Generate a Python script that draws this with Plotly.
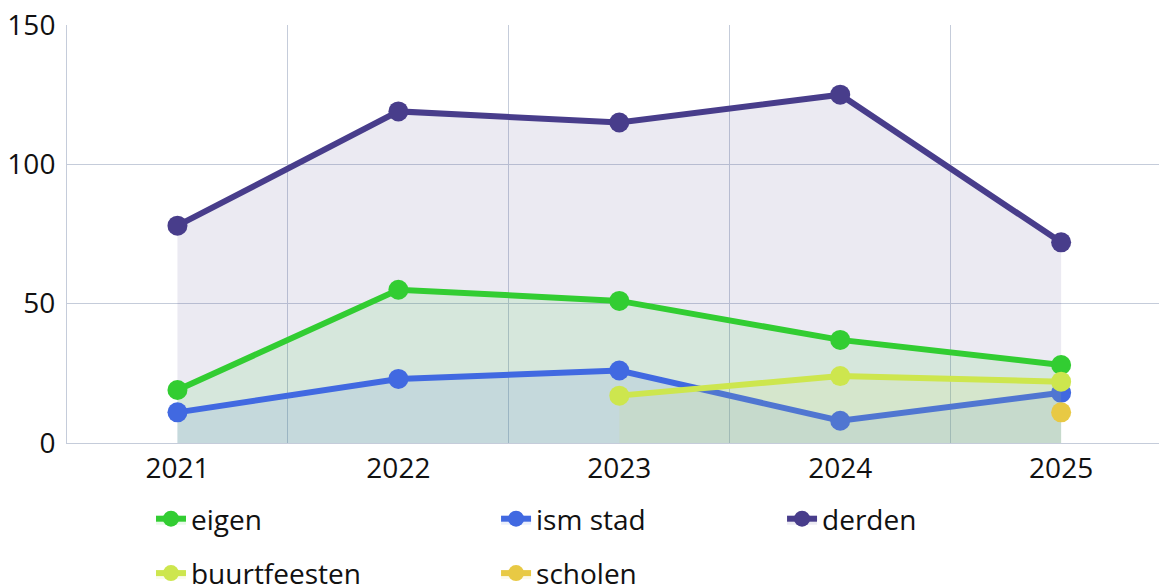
import plotly.graph_objects as go

# ---------------------------------------------------------
# DATA
# ---------------------------------------------------------
years = ["2021", "2022", "2023", "2024", "2025"]
eigen = [19, 55, 51, 37, 28]
ism_stad = [11, 23, 26, 8, 18]
derden = [78, 119, 115, 125, 72]
buurtfeesten = [None, None, 17, 24, 22]
scholen = [None, None, None, None, 11]

# name, values, line colour, fill colour, legend
series = [
    ("derden", derden, "#483D8B", "rgba(72,61,139,0.11)", "legend3"),
    ("eigen", eigen, "#32CD32", "rgba(50,205,50,0.11)", "legend"),
    ("ism stad", ism_stad, "#4169E1", "rgba(65,105,225,0.11)", "legend2"),
    ("buurtfeesten", buurtfeesten, "#CDE64E", "rgba(205,230,78,0.11)", "legend"),
    ("scholen", scholen, "#E8C944", "rgba(232,201,68,0.11)", "legend2"),
]

FONT = "Open Sans"
GRID = "#c5ccda"

fig = go.Figure()
for name, vals, col, fillcol, leg in series:
    fig.add_trace(go.Scatter(
        x=years, y=vals, name=name, mode="lines+markers",
        line=dict(color=col, width=6),
        marker=dict(color=col, size=20),
        fill="tozeroy", fillcolor=fillcol,
        legend=leg, legendgroup=name,
    ))

legend_style = dict(
    orientation="v", yanchor="top", xanchor="left", y=-0.122,
    font=dict(family=FONT, size=28, color="#111111"),
    bgcolor="rgba(0,0,0,0)", tracegroupgap=15, itemwidth=30,
)

fig.update_layout(
    width=1159, height=588,
    margin=dict(l=67, r=0, t=25, b=145, autoexpand=False),
    paper_bgcolor="white", plot_bgcolor="white",
    font=dict(family=FONT, size=28, color="#111111"),
    xaxis=dict(
        type="category", range=[-0.5, 4.443], tickson="boundaries",
        showgrid=True, gridcolor=GRID, gridwidth=1,
        showline=True, linecolor=GRID, linewidth=1,
        ticks="", ticklabelstandoff=0, automargin=False,
        tickfont=dict(family=FONT, size=28),
    ),
    yaxis=dict(
        range=[0, 150], tickvals=[0, 50, 100, 150],
        showgrid=True, gridcolor=GRID, gridwidth=1,
        showline=True, linecolor=GRID, linewidth=1,
        zeroline=False, ticks="", ticklabelstandoff=5, automargin=False,
        tickfont=dict(family=FONT, size=28),
    ),
    legend=dict(legend_style, x=0.0769),
    legend2=dict(legend_style, x=0.3929),
    legend3=dict(legend_style, x=0.6548),
)

# drop the page's default 8px body margin so the figure fills the window
fig.write_html(
    "out.html",
    config={"displayModeBar": False},
    post_script="document.body.style.margin='0';",
)
